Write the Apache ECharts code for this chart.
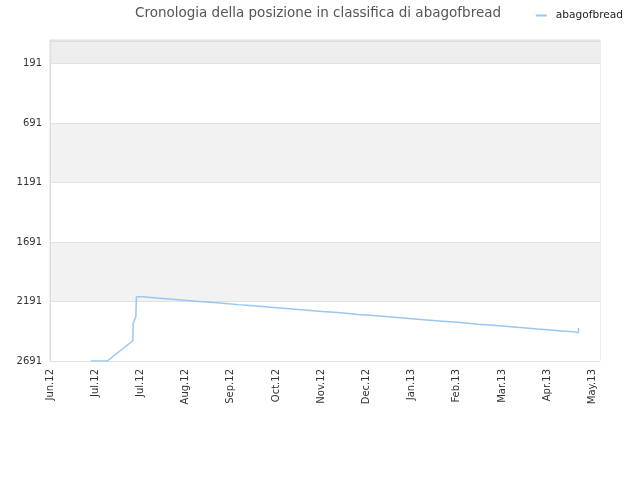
<!DOCTYPE html>
<html>
<head>
<meta charset="utf-8">
<script src="https://cdn.jsdelivr.net/npm/echarts@6/dist/echarts.min.js"></script>
<style>html,body{margin:0;padding:0;background:#fff}#c{width:640px;height:480px}</style>
</head>
<body>
<div id="c"></div>
<script>
var titleText = 'Cronologia della posizione in classifica di abagofbread';
var seriesName = 'abagofbread';
var xTickLabels = ['Jun.12','Jul.12','Jul.12','Aug.12','Sep.12','Oct.12','Nov.12','Dec.12','Jan.13','Feb.13','Mar.13','Apr.13','May.13'];
var xTickStep = 30;
var yTickValues = [191, 691, 1191, 1691, 2191, 2691];
var yMin = -8, yMax = 2691;
// early part (days since Jun.12 tick, rank)
var earlyDays = [27, 38, 55, 55.2, 57, 57.3];
var earlyRanks = [2691, 2691, 2521, 2373, 2317, 2151];
// later stepped part
var stepDays = [57.3, 61.1, 69.1, 77.0, 85.0, 93.0, 100.9, 108.9, 116.8, 124.8, 132.8, 140.7, 148.7, 156.6, 164.6, 172.6, 180.5, 188.5, 196.4, 204.4, 212.4, 220.3, 228.3, 236.2, 244.2, 252.2, 260.1, 268.1, 276.0, 284.0, 292.0, 299.9, 307.9, 315.8, 323.8, 331.8, 339.7, 347.7, 350.7];
var stepRanks = [2151, 2159, 2167, 2176, 2184, 2192, 2200, 2208, 2217, 2225, 2233, 2241, 2249, 2258, 2266, 2274, 2282, 2290, 2299, 2307, 2315, 2323, 2331, 2340, 2348, 2356, 2364, 2372, 2381, 2389, 2397, 2405, 2413, 2422, 2430, 2438, 2446, 2454, 2413];

function pairs(a, b) { return a.map(function (v, i) { return [v, b[i]]; }); }
var lineColor = '#99c7f1';

var chart = echarts.init(document.getElementById('c'), null, {renderer: 'canvas'});
chart.setOption({
  backgroundColor: '#ffffff',
  animation: false,
  title: {
    text: titleText, left: 313, top: 1, textAlign: 'center',
    textStyle: {fontFamily: 'DejaVu Sans', fontSize: 13.5, fontWeight: 'normal', color: '#555'}
  },
  legend: {
    right: 12, top: 5, itemWidth: 11, itemHeight: 2, itemGap: 8,
    icon: 'rect',
    textStyle: {fontFamily: 'DejaVu Sans', fontSize: 10.6, color: '#222', padding: [0, 0, 0, 4]},
    data: [{name: seriesName}]
  },
  grid: {left: 50, right: 40, top: 40, bottom: 119, show: true, borderColor: '#dddddd', borderWidth: 1},
  xAxis: {
    type: 'value', min: 0, max: 365, interval: xTickStep,
    axisLine: {show: true, lineStyle: {color: '#dddddd'}},
    axisTick: {show: false},
    splitLine: {show: false},
    axisLabel: {
      rotate: 90, color: '#333', fontFamily: 'DejaVu Sans', fontSize: 10, margin: 8,
      showMaxLabel: false,
      formatter: function (v) { var i = Math.round(v / xTickStep); return xTickLabels[i] || ''; }
    }
  },
  yAxis: {
    type: 'value', inverse: true, min: yMin, max: yMax,
    axisLine: {show: true, lineStyle: {color: '#dddddd'}},
    axisTick: {show: false, customValues: [yMin].concat(yTickValues)},
    axisLabel: {customValues: yTickValues, color: '#333', fontFamily: 'DejaVu Sans', fontSize: 10, margin: 8,
      formatter: function (v) { return String(v); }},
    splitLine: {show: true, lineStyle: {color: '#e2e2e2'}},
    splitArea: {show: true, areaStyle: {color: ['#eeeeee', '#ffffff', '#f2f2f2', '#ffffff', '#f2f2f2', '#ffffff']}}
  },
  series: [
    {
      name: seriesName, type: 'line', showSymbol: false, symbol: 'none',
      lineStyle: {color: lineColor, width: 1.5}, itemStyle: {color: lineColor},
      data: pairs(earlyDays, earlyRanks)
    },
    {
      name: seriesName, type: 'line', showSymbol: false, symbol: 'none', step: 'end',
      lineStyle: {color: lineColor, width: 1.5}, itemStyle: {color: lineColor},
      data: pairs(stepDays, stepRanks)
    }
  ]
});
</script>
</body>
</html>
